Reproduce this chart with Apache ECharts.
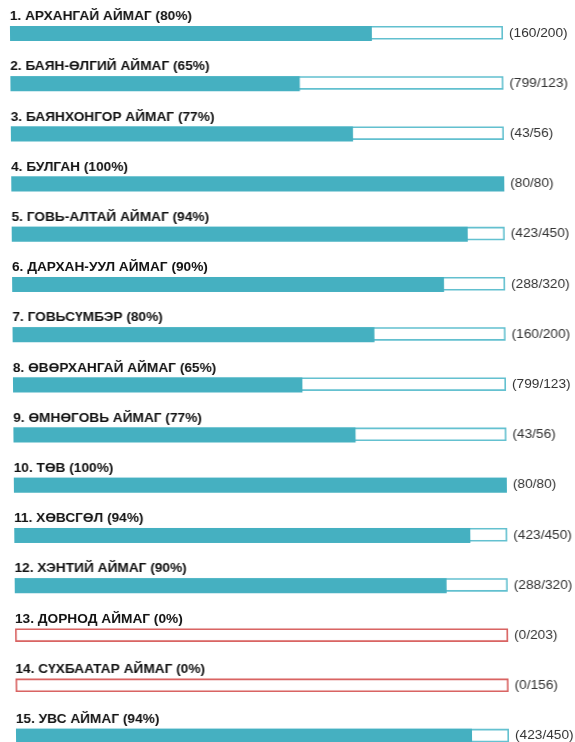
<!DOCTYPE html>
<html>
<head>
<meta charset="utf-8">
<title>Аймгууд</title>
<script src="https://cdn.jsdelivr.net/npm/echarts@6/dist/echarts.min.js"></script>
<style>
  html, body { margin: 0; padding: 0; background: #fff; overflow: hidden; }
  #main { width: 575px; height: 780px; transform: skewX(0.49deg); transform-origin: 0 33px; }
</style>
</head>
<body>
<div id="main"></div>
<script>
// аймгийн нэрс
var names = ['АРХАНГАЙ АЙМАГ', 'БАЯН-ӨЛГИЙ АЙМАГ', 'БАЯНХОНГОР АЙМАГ', 'БУЛГАН', 'ГОВЬ-АЛТАЙ АЙМАГ',
    'ДАРХАН-УУЛ АЙМАГ', 'ГОВЬСҮМБЭР', 'ӨВӨРХАНГАЙ АЙМАГ', 'ӨМНӨГОВЬ АЙМАГ', 'ТӨВ',
    'ХӨВСГӨЛ', 'ХЭНТИЙ АЙМАГ', 'ДОРНОД АЙМАГ', 'СҮХБААТАР АЙМАГ', 'УВС АЙМАГ'];
var percents = [80, 65, 77, 100, 94, 90, 80, 65, 77, 100, 94, 90, 0, 0, 94];
var done = [160, 799, 43, 80, 423, 288, 160, 799, 43, 80, 423, 288, 0, 0, 423];
var total = [200, 123, 56, 80, 450, 320, 200, 123, 56, 80, 450, 320, 203, 156, 450];
// дүүргэлтийн урт (зургаас хэмжсэн)
var fill = [73.4, 58.7, 69.4, 100, 92.5, 87.6, 73.4, 58.7, 69.4, 100, 92.5, 87.6, 0, 0, 92.5];

var titles = names.map(function (n, i) {
    return (i + 1) + '. ' + n + ' (' + percents[i] + '%)';
});

var teal = '#45b0c1';
var tealBorder = '#62c0cf';
var red = '#d8605f';

var myChart = echarts.init(document.getElementById('main'));

myChart.setOption({
    animation: false,
    grid: { left: 10, top: 8.4, width: 493, height: 753 },
    xAxis: { type: 'value', min: 0, max: 100, show: false },
    yAxis: { type: 'category', data: titles, inverse: true, show: false },
    series: [
        {
            // хүрээ
            type: 'bar',
            barWidth: 13.5,
            barGap: '-100%',
            silent: true,
            data: total.map(function (t, i) {
                return {
                    value: 100,
                    itemStyle: { borderColor: percents[i] === 0 ? red : tealBorder }
                };
            }),
            itemStyle: { color: '#fff', borderWidth: 1.6 },
            label: {
                show: true,
                position: 'right',
                distance: 6,
                color: '#333',
                fontFamily: 'Liberation Sans',
                fontSize: 13.7,
                formatter: function (p) {
                    return '(' + done[p.dataIndex] + '/' + total[p.dataIndex] + ')';
                }
            }
        },
        {
            // дүүргэлт
            type: 'bar',
            barWidth: 15,
            barGap: '-100%',
            silent: true,
            data: fill,
            itemStyle: { color: teal }
        },
        {
            // гарчиг
            type: 'bar',
            barWidth: 15,
            barGap: '-100%',
            silent: true,
            data: fill.map(function () { return 100; }),
            itemStyle: { color: 'rgba(0,0,0,0)' },
            label: {
                show: true,
                position: [0, -9.5],
                verticalAlign: 'middle',
                align: 'left',
                color: '#111',
                fontFamily: 'Liberation Sans',
                fontWeight: 'bold',
                fontSize: 13.7,
                formatter: function (p) { return titles[p.dataIndex]; }
            }
        }
    ]
});
</script>
</body>
</html>
